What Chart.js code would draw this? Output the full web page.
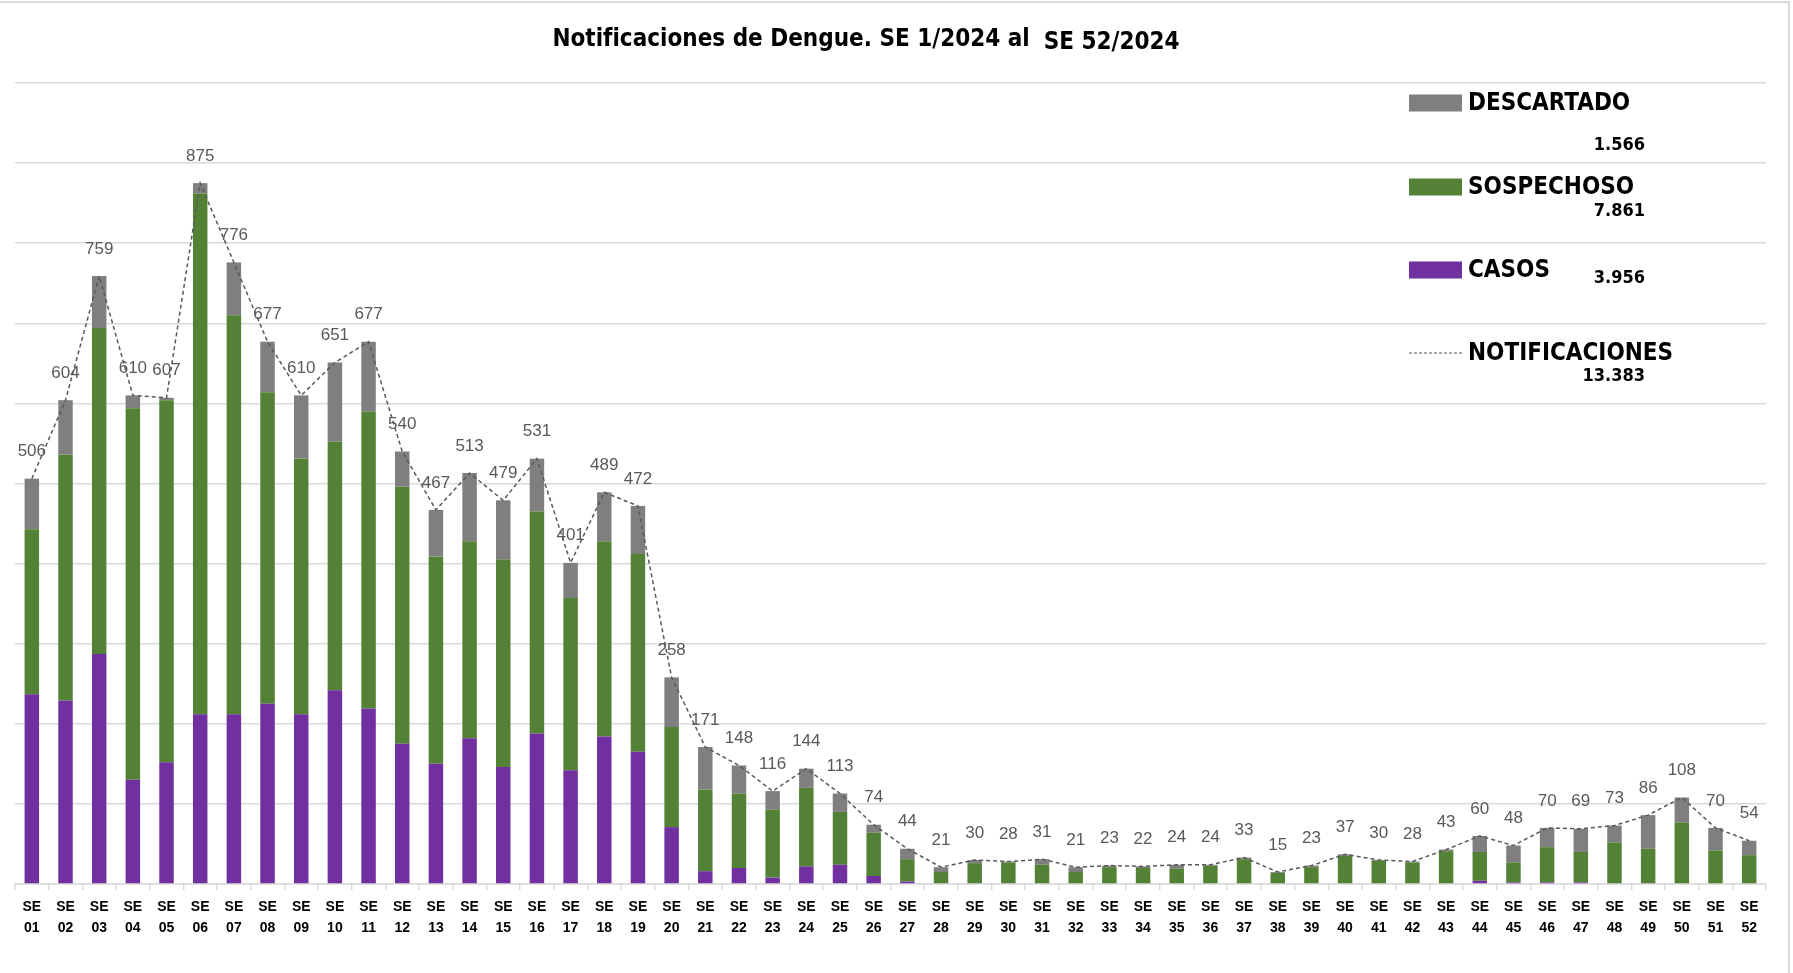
<!DOCTYPE html>
<html lang="es">
<head>
<meta charset="utf-8">
<title>Notificaciones de Dengue 2024</title>
<script src="https://cdn.jsdelivr.net/npm/chart.js@4.4.1/dist/chart.umd.min.js"></script>
<style>
  html, body { margin: 0; padding: 0; background: #fff; }
  #wrap { width: 1793px; height: 973px; position: relative; }
</style>
</head>
<body>
<div id="wrap"><canvas id="dengueChart"></canvas></div>
<script>
// Semanas epidemiologicas
const semanas = [
  "01", "02", "03", "04", "05", "06", "07", "08", "09", "10", "11", "12", "13",
  "14", "15", "16", "17", "18", "19", "20", "21", "22", "23", "24", "25", "26",
  "27", "28", "29", "30", "31", "32", "33", "34", "35", "36", "37", "38", "39",
  "40", "41", "42", "43", "44", "45", "46", "47", "48", "49", "50", "51", "52"
];

// values (stacked bars)
const casos = [
  237, 229, 287, 130, 152, 212, 212, 225, 212, 242, 219, 175, 150,
  182, 146, 188, 142, 184, 165, 71, 16, 20, 8, 22, 24, 10,
  3, 0, 0, 0, 0, 0, 0, 0, 0, 0, 0, 0, 0,
  0, 0, 0, 0, 4, 2, 2, 2, 0, 0, 0, 0, 0
];
const sospechoso = [
  206, 307, 407, 464, 452, 650, 498, 389, 319, 310, 371, 321, 259,
  246, 259, 277, 215, 244, 247, 125, 102, 93, 85, 98, 66, 54,
  28, 15, 26, 27, 24, 15, 21, 20, 19, 23, 31, 14, 21,
  35, 29, 27, 41, 36, 25, 44, 38, 52, 44, 77, 42, 36
];
const descartado = [
  63, 68, 65, 16, 3, 13, 66, 63, 79, 99, 87, 44, 58,
  85, 74, 66, 44, 61, 60, 62, 53, 35, 23, 24, 23, 10,
  13, 6, 4, 1, 7, 6, 2, 2, 5, 1, 2, 1, 2,
  2, 1, 1, 2, 20, 21, 24, 29, 21, 42, 31, 28, 18
];
// totals as labelled on the chart
const notificaciones = [
  506, 604, 759, 610, 607, 875, 776, 677, 610, 651, 677, 540, 467,
  513, 479, 531, 401, 489, 472, 258, 171, 148, 116, 144, 113, 74,
  44, 21, 30, 28, 31, 21, 23, 22, 24, 24, 33, 15, 23,
  37, 30, 28, 43, 60, 48, 70, 69, 73, 86, 108, 70, 54
];

const tituloA = "Notificaciones de Dengue. SE 1/2024 al";
const tituloB = "SE 52/2024";
const leyenda = [
  { nombre: "DESCARTADO", total: "1.566" },
  { nombre: "SOSPECHOSO", total: "7.861" },
  { nombre: "CASOS", total: "3.956" },
  { nombre: "NOTIFICACIONES", total: "13.383" }
];

const GRIS = "#7f7f7f";
const VERDE = "#538135";
const VIOLETA = "#7030a0";
const NARROW = '"Liberation Sans Narrow", "DejaVu Sans Condensed", sans-serif';
const SANS = '"Liberation Sans", Arial, sans-serif';

// title, legend, frame and value labels drawn on the canvas
const decorPlugin = {
  id: "decor",
  afterDatasetsDraw(chart) {
    const { ctx, scales } = chart;
    const xs = scales.x, ys = scales.y;

    ctx.save();
    // value labels above the line
    ctx.font = "17px " + SANS;
    ctx.fillStyle = "#595959";
    ctx.textAlign = "center";
    ctx.textBaseline = "middle";
    notificaciones.forEach((v, i) => {
      ctx.fillText(String(v), xs.getPixelForValue(i), ys.getPixelForValue(v) - 27);
    });

    // frame
    ctx.strokeStyle = "#d9d9d9";
    ctx.lineWidth = 2;
    ctx.beginPath();
    ctx.moveTo(0, 2);
    ctx.lineTo(1789, 2);
    ctx.lineTo(1789, 973);
    ctx.stroke();

    // title
    ctx.fillStyle = "#000";
    ctx.font = "bold 24px " + NARROW;
    ctx.textAlign = "left";
    ctx.textBaseline = "alphabetic";
    const wA = ctx.measureText(tituloA).width;
    const wB = ctx.measureText(tituloB).width;
    const gap = 14;
    const x0 = 866 - (wA + gap + wB) / 2;
    ctx.fillText(tituloA, x0, 46);
    ctx.fillText(tituloB, x0 + wA + gap, 49);

    // legend
    const sw = { x: 1409, w: 53, h: 17 };
    const filas = [
      { y: 103, color: GRIS, vy: 145 },
      { y: 187, color: VERDE, vy: 211 },
      { y: 270, color: VIOLETA, vy: 278 },
      { y: 353, color: null, vy: 376 }
    ];
    filas.forEach((f, i) => {
      if (f.color) {
        ctx.fillStyle = f.color;
        ctx.fillRect(sw.x, f.y - sw.h / 2, sw.w, sw.h);
      } else {
        ctx.strokeStyle = "#595959";
        ctx.lineWidth = 1.2;
        ctx.setLineDash([3, 2]);
        ctx.beginPath();
        ctx.moveTo(sw.x, f.y);
        ctx.lineTo(sw.x + sw.w, f.y);
        ctx.stroke();
        ctx.setLineDash([]);
      }
      ctx.fillStyle = "#000";
      ctx.textBaseline = "middle";
      ctx.textAlign = "left";
      ctx.font = "bold 24px " + NARROW;
      ctx.fillText(leyenda[i].nombre, 1468, f.y + 1);
      ctx.textAlign = "right";
      ctx.font = "bold 18px " + NARROW;
      ctx.fillText(leyenda[i].total, 1645, f.vy);
    });
    ctx.restore();
  }
};

new Chart(document.getElementById("dengueChart"), {
  type: "bar",
  data: {
    labels: semanas.map((s) => ["SE", s]),
    datasets: [
      {
        type: "line",
        label: "NOTIFICACIONES",
        data: notificaciones,
        stack: "total",
        borderColor: "#595959",
        borderWidth: 1.5,
        borderDash: [4, 3],
        pointRadius: 0,
        fill: false,
        tension: 0,
        order: 0
      },
      { label: "CASOS", data: casos, backgroundColor: VIOLETA, stack: "s", order: 1 },
      { label: "SOSPECHOSO", data: sospechoso, backgroundColor: VERDE, stack: "s", order: 1 },
      { label: "DESCARTADO", data: descartado, backgroundColor: GRIS, stack: "s", order: 1 }
    ]
  },
  options: {
    responsive: true,
    maintainAspectRatio: false,
    animation: false,
    layout: { padding: { left: 15, right: 27, top: 83, bottom: 0 } },
    datasets: {
      bar: { categoryPercentage: 1, barPercentage: 0.43 }
    },
    plugins: {
      legend: { display: false },
      title: { display: false },
      tooltip: { enabled: false }
    },
    scales: {
      x: {
        stacked: true,
        grid: {
          drawOnChartArea: false,
          drawTicks: true,
          tickLength: 6,
          color: "#d9d9d9",
          lineWidth: 1.5
        },
        border: { color: "#d9d9d9", width: 1.5 },
        ticks: {
          color: "#000",
          font: { family: SANS, size: 14, weight: "bold", lineHeight: 1.55 },
          padding: 6,
          maxRotation: 0,
          autoSkip: false
        },
        afterFit: (scale) => { scale.height = 89; }
      },
      y: {
        stacked: true,
        min: 0,
        max: 1000,
        ticks: { display: false, stepSize: 100 },
        grid: { color: "#d9d9d9", lineWidth: 1.5, drawTicks: false },
        border: { display: false },
        afterFit: (scale) => { scale.width = 0; }
      }
    }
  },
  plugins: [decorPlugin]
});
</script>
</body>
</html>
